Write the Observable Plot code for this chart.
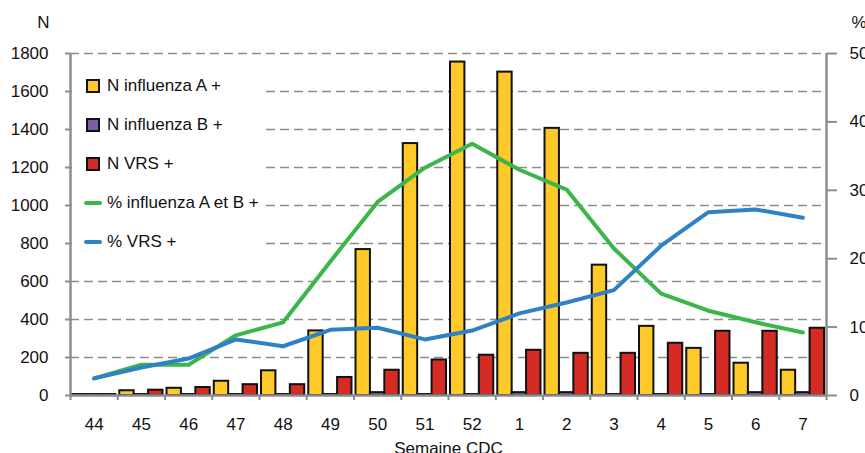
<!DOCTYPE html>
<html>
<head>
<meta charset="utf-8">
<script src="https://cdn.jsdelivr.net/npm/d3@7"></script>
<script src="https://cdn.jsdelivr.net/npm/@observablehq/plot@0.6"></script>
<style>
  html, body { margin: 0; padding: 0; background: white; }
  #wrap { position: relative; width: 865px; height: 453px; overflow: hidden; font-family: "Liberation Sans", Arial, sans-serif; }
  #legend { position: absolute; left: 72px; top: 66px; width: 194px; height: 195px; background: white; font-size: 17px; color: #111; }
  .row { height: 39px; display: flex; align-items: center; }
  .sym { width: 18px; margin-left: 12px; display: flex; align-items: center; justify-content: center; }
  .sq { width: 14px; height: 14px; box-sizing: border-box; border: 2px solid #111; }
  .ln { width: 18px; height: 4px; border-radius: 2px; }
  .lab { margin-left: 5px; white-space: nowrap; }
</style>
</head>
<body>
<div id="wrap"></div>
<script>
const weeks = ["44","45","46","47","48","49","50","51","52","1","2","3","4","5","6","7"];
const fluA  = [5, 25, 38, 75, 130, 340, 768, 1326, 1755, 1702, 1406, 686, 364, 248, 170, 133];
const fluB  = [5, 5, 5, 5, 5, 5, 15, 5, 5, 15, 15, 5, 5, 5, 15, 15];
const vrs   = [5, 28, 42, 57, 57, 95, 133, 187, 212, 238, 222, 222, 275, 338, 338, 354];
const pctFlu = [2.5, 4.5, 4.5, 8.8, 10.7, 19.6, 28.3, 33.3, 36.8, 33.0, 30.1, 21.5, 14.9, 12.4, 10.7, 9.2];
const pctVrs = [2.5, 4.1, 5.4, 8.2, 7.2, 9.6, 9.9, 8.2, 9.5, 12.0, 13.6, 15.4, 21.9, 26.8, 27.2, 26.0];
const seriesNames = ["N influenza A +", "N influenza B +", "N VRS +", "% influenza A et B +", "% VRS +"];
const colors = ["#FFC929", "#7B5EA7", "#D42B24", "#3CB54A", "#2E81C5"];
const leftTicks = [0, 200, 400, 600, 800, 1000, 1200, 1400, 1600, 1800];
const rightTicks = [0, 10, 20, 30, 40, 50];
const pctToN = 1800 / 50;

const gray = "#8c8c8c";
const barW = 0.305, edge = 0.0425;

const bars = [];
[fluA, fluB, vrs].forEach((arr, s) => {
  arr.forEach((v, i) => {
    const x1 = i - 0.5 + edge + s * barW;
    bars.push({series: seriesNames[s], i, x1, x2: x1 + barW, value: v});
  });
});
const idx = d3.range(weeks.length);

const chart = Plot.plot({
  width: 865,
  height: 453,
  marginLeft: 70,
  marginRight: 39,
  marginTop: 53,
  marginBottom: 58,
  style: {fontFamily: "'Liberation Sans', Arial, sans-serif", fontSize: "17px", color: "#111", background: "white"},
  x: {type: "linear", domain: [-0.5, weeks.length - 0.5], axis: null},
  y: {domain: [0, 1800], axis: null},
  color: {domain: seriesNames.slice(0, 3), range: colors.slice(0, 3)},
  marks: [
    Plot.ruleY(leftTicks.filter(d => d > 0), {stroke: gray, strokeWidth: 1.5, strokeDasharray: "9,5"}),
    Plot.rect(bars, {x1: "x1", x2: "x2", y1: 0, y2: "value", fill: "series", stroke: "#111", strokeWidth: 2}),
    Plot.line(idx, {x: i => i, y: i => pctFlu[i] * pctToN, stroke: colors[3], strokeWidth: 4}),
    Plot.line(idx, {x: i => i, y: i => pctVrs[i] * pctToN, stroke: colors[4], strokeWidth: 4}),
    Plot.ruleX([-0.5], {stroke: gray, strokeWidth: 2.5}),
    Plot.ruleX([weeks.length - 0.5], {stroke: gray, strokeWidth: 2.5}),
    Plot.ruleY([0], {stroke: gray, strokeWidth: 2.5}),
    Plot.axisY({anchor: "left", ticks: leftTicks, tickFormat: d => String(d), tickSize: 5, tickPadding: 17, stroke: gray, strokeWidth: 2, fill: "#111", label: null}),
    Plot.axisY({anchor: "right", ticks: rightTicks.map(d => d * pctToN), tickFormat: d => String(Math.round(d / pctToN)), tickSize: 10, tickPadding: 13, stroke: gray, strokeWidth: 2, fill: "#111", label: null}),
    Plot.axisX({anchor: "bottom", ticks: d3.range(-0.5, weeks.length, 1), tickSize: 5, tickFormat: () => "", stroke: gray, strokeWidth: 2, label: null}),
    Plot.axisX({anchor: "bottom", ticks: idx, tickSize: 0, tickPadding: 22, tickFormat: i => weeks[i], fill: "#111", label: null}),
    Plot.text(["Semaine CDC"], {frameAnchor: "bottom", dy: 46, lineAnchor: "top", fill: "#111"}),
    Plot.text(["N"], {frameAnchor: "top-left", dx: -27, dy: -38, lineAnchor: "top", textAnchor: "middle", fill: "#111"}),
    Plot.text(["%"], {frameAnchor: "top-right", dx: 25, dy: -38, lineAnchor: "top", textAnchor: "start", fill: "#111"})
  ]
});

const wrap = document.getElementById("wrap");
wrap.appendChild(chart);

const legend = document.createElement("div");
legend.id = "legend";
seriesNames.forEach((name, k) => {
  const row = document.createElement("div");
  row.className = "row";
  const sym = document.createElement("div");
  sym.className = "sym";
  const mark = document.createElement("div");
  mark.className = k < 3 ? "sq" : "ln";
  mark.style.background = colors[k];
  sym.appendChild(mark);
  const lab = document.createElement("div");
  lab.className = "lab";
  lab.textContent = name;
  row.appendChild(sym);
  row.appendChild(lab);
  legend.appendChild(row);
});
wrap.appendChild(legend);
</script>
</body>
</html>
